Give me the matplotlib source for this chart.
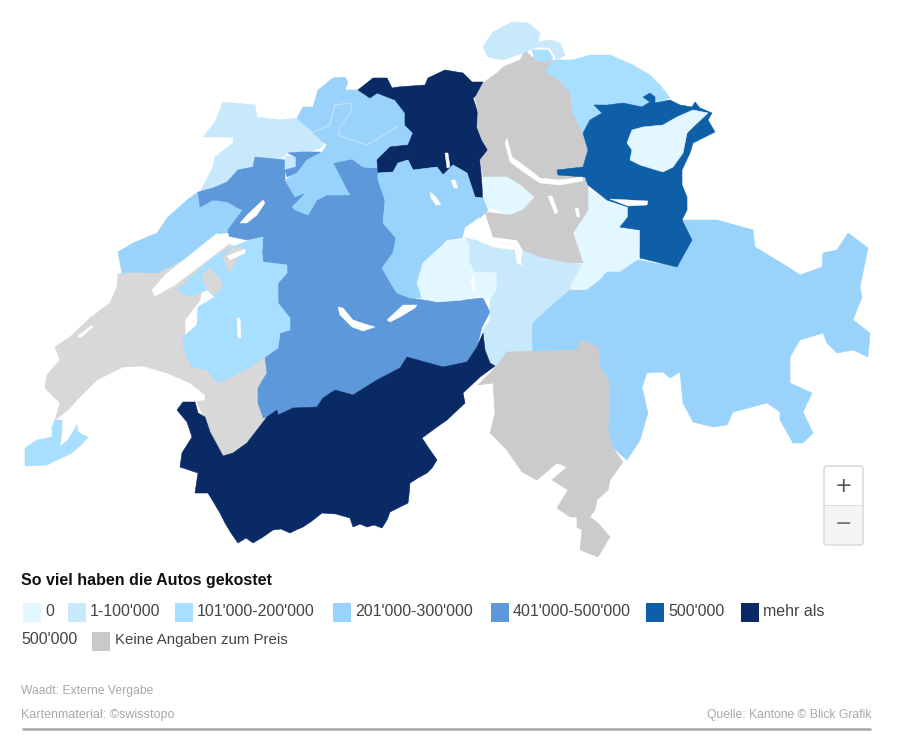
import matplotlib
matplotlib.use('Agg')
import matplotlib.pyplot as plt
from matplotlib.patches import Rectangle, FancyBboxPatch

plt.rcParams['font.family'] = ['Liberation Sans Narrow', 'Liberation Sans', 'DejaVu Sans']

# Kantone, Umrisse aus dem Bild gelesen (Pixel x, y)
vaud = [(118,274),(135,270),(157,270),(185,255),(215,235),(225,243),(241,248),(230,250),(205,270),(200,300),(185,320),(185,345),(225,378),(265,357),(267,373),(258,388),(258,403),(262,418),(267,417),(257,430),(247,443),(233,453),(223,456),(210,432),(197,402),(205,400),(205,395),(190,383),(167,373),(143,366),(123,367),(97,380),(77,400),(68,410),(55,420),(60,403),(45,388),(47,375),(60,360),(55,347),(70,337),(90,318),(110,303),(117,287)]
geneve = [(55,420),(62,420),(62,430),(60,447),(68,440),(77,425),(78,432),(88,437),(83,443),(72,453),(57,460),(47,465),(25,466),(25,448),(37,440),(52,437),(52,427)]
neuchatel = [(118,252),(133,243),(157,233),(168,217),(187,200),(198,192),(200,207),(213,200),(228,202),(238,208),(243,210),(233,223),(228,230),(228,236),(217,233),(183,260),(157,273),(135,272),(122,273)]
jura = [(203,137),(215,122),(223,102),(255,105),(257,117),(280,120),(297,118),(313,133),(323,142),(322,147),(307,153),(287,153),(280,160),(255,157),(253,167),(238,170),(227,182),(213,188),(200,192),(213,167),(215,157),(233,143),(233,137)]
jura_enklave = [(285,156),(296,156),(296,168),(285,170)]
bern = [(198,192),(213,188),(227,182),(238,170),(253,167),(255,157),(285,160),(285,180),(293,193),(317,195),(348,195),(333,163),(352,159),(363,167),(377,168),(378,180),(385,200),(383,223),(396,238),(393,253),(382,268),(393,287),(397,293),(410,298),(437,302),(463,300),(483,298),(490,312),(482,327),(477,347),(467,362),(443,367),(407,357),(400,368),(377,380),(353,395),(335,390),(323,398),(317,407),(293,408),(278,415),(263,418),(258,403),(258,388),(267,373),(265,357),(278,348),(280,333),(290,330),(290,318),(278,303),(278,283),(287,273),(287,265),(263,262),(262,253),(263,237),(247,240),(228,236),(228,230),(233,223),(243,210),(238,208),(228,202),(213,200),(200,207)]
bern_nord = [(288,153),(300,152),(320,152),(322,153),(307,160),(297,173),(287,177),(285,170),(296,167),(296,157)]
fribourg = [(177,290),(212,258),(232,247),(250,240),(263,237),(262,253),(263,262),(287,265),(287,273),(278,283),(278,303),(290,318),(290,330),(280,333),(278,348),(265,357),(250,367),(230,377),(218,383),(207,370),(192,367),(187,357),(183,347),(183,337),(197,325),(198,307),(215,297),(207,290),(190,297)]
vaud_enklave_1 = [(202,275),(210,268),(223,283),(217,295),(207,290)]
vaud_enklave_2 = [(223,257),(233,248),(243,247),(230,273),(227,267)]
solothurn = [(297,118),(303,107),(313,107),(318,90),(333,78),(345,77),(348,82),(345,90),(357,90),(370,98),(377,93),(395,100),(405,113),(405,125),(413,133),(408,145),(397,147),(390,147),(380,160),(377,168),(363,167),(352,159),(333,163),(348,192),(350,195),(327,195),(317,200),(308,215),(295,210),(292,207),(307,192),(295,197),(285,180),(297,173),(307,160),(322,152),(327,145),(323,142),(313,133)]
aargau = [(358,90),(373,78),(387,78),(392,88),(398,87),(425,85),(428,78),(445,70),(463,73),(472,82),(483,82),(482,92),(473,98),(478,113),(477,127),(482,140),(488,150),(480,160),(483,198),(475,197),(467,173),(453,165),(443,175),(437,167),(413,170),(408,160),(398,163),(393,172),(378,173),(377,160),(390,147),(408,145),(413,133),(405,125),(405,113),(395,100),(377,93),(370,98)]
luzern = [(378,173),(393,172),(398,163),(408,160),(413,170),(437,167),(443,175),(453,165),(467,173),(475,197),(483,198),(488,210),(480,218),(465,227),(462,238),(447,240),(437,250),(423,263),(417,283),(422,298),(410,298),(397,293),(393,287),(382,268),(393,253),(396,238),(383,223),(385,200),(378,180)]
obwalden = [(417,283),(423,263),(437,250),(447,242),(462,238),(470,245),(470,262),(475,272),(470,280),(475,296),(463,300),(437,302),(422,298)]
obwalden_2 = [(475,273),(497,272),(497,290),(490,300),(483,298),(475,296)]
nidwalden = [(465,238),(493,240),(517,247),(520,267),(505,268),(497,272),(475,272),(470,262),(470,245)]
uri = [(490,300),(490,320),(483,330),(485,350),(490,363),(495,366),(507,352),(533,352),(532,333),(533,323),(550,307),(570,290),(575,282),(583,265),(570,263),(540,257),(523,250),(520,267),(505,268),(497,272),(497,290)]
glarus = [(588,190),(607,200),(628,207),(628,217),(620,227),(638,228),(640,260),(620,272),(607,272),(600,280),(587,290),(570,287),(583,263),(573,233),(588,210)]
graubuenden = [(638,260),(677,267),(692,240),(682,220),(717,220),(753,230),(755,247),(788,267),(800,275),(822,267),(823,253),(837,250),(848,233),(868,248),(860,287),(862,297),(853,320),(870,333),(868,357),(853,350),(837,353),(827,343),(823,333),(800,340),(790,357),(790,383),(812,393),(803,412),(813,433),(803,443),(793,443),(780,420),(780,412),(767,403),(733,412),(727,425),(713,427),(693,422),(683,403),(680,372),(670,378),(663,372),(647,373),(642,387),(648,413),(640,440),(627,460),(612,447),(608,430),(610,383),(600,367),(598,347),(580,340),(577,350),(533,352),(532,333),(533,323),(550,307),(570,290),(587,290),(600,280),(607,272),(620,272)]
tessin = [(478,385),(493,370),(507,352),(577,350),(580,340),(598,347),(600,367),(610,383),(608,430),(612,447),(623,462),(610,480),(608,490),(597,500),(595,510),(590,517),(598,523),(610,537),(598,557),(580,550),(582,530),(577,527),(577,517),(570,517),(557,508),(568,490),(552,480),(567,467),(557,463),(537,480),(522,472),(507,450),(490,433),(495,413),(493,383)]
zuerich = [(475,98),(483,83),(497,73),(503,67),(520,60),(525,50),(532,57),(553,60),(545,72),(560,80),(570,93),(573,113),(583,133),(588,150),(583,167),(585,178),(560,182),(540,181),(523,187),(507,177),(483,177),(480,160),(488,150),(482,140),(477,127),(478,113)]
zug = [(483,177),(507,177),(523,187),(535,197),(523,210),(510,215),(488,207),(483,197)]
schwyz = [(523,187),(540,181),(560,183),(586,179),(588,187),(588,210),(573,233),(583,263),(570,263),(540,257),(523,250),(517,240),(493,237),(485,212),(510,215),(523,210),(535,197)]
thurgau = [(557,60),(573,60),(590,55),(610,55),(633,65),(650,75),(660,85),(670,98),(655,103),(655,97),(650,93),(643,97),(650,102),(642,107),(623,103),(594,105),(602,113),(590,120),(583,133),(573,113),(570,93),(560,80),(545,72),(553,60)]
thurgau_see = [(532,50),(548,50),(553,58),(545,62),(535,60)]
schaffhausen = [(483,47),(493,32),(512,22),(528,23),(540,33),(538,42),(550,40),(560,43),(565,55),(557,60),(550,48),(537,47),(523,53),(503,60),(488,57)]
st_gallen = [(594,105),(607,105),(623,103),(642,107),(650,102),(643,97),(650,93),(655,97),(655,103),(670,100),(680,105),(692,107),(695,102),(700,108),(712,113),(708,120),(715,132),(693,143),(690,153),(682,170),(682,185),(687,197),(687,210),(682,220),(692,240),(677,267),(640,258),(640,230),(620,227),(628,217),(628,207),(607,200),(588,185),(585,177),(558,175),(557,170),(583,167),(588,150),(583,133),(590,120),(602,113)]
appenzell = [(632,130),(643,127),(663,125),(677,117),(693,110),(708,113),(693,127),(687,133),(683,153),(673,167),(663,172),(640,165),(630,160),(632,150),(627,143),(630,135)]
wallis = [(177,410),(183,402),(195,402),(198,413),(205,417),(210,432),(223,456),(233,453),(247,443),(257,430),(267,417),(277,410),(278,415),(293,408),(317,407),(323,398),(335,390),(353,395),(377,380),(400,368),(407,357),(443,367),(467,362),(477,347),(483,333),(485,350),(490,363),(495,366),(480,377),(463,393),(465,403),(447,420),(437,427),(422,438),(430,450),(437,460),(432,468),(427,473),(418,478),(410,483),(409,495),(408,503),(398,508),(390,512),(387,520),(382,528),(374,525),(367,527),(360,524),(353,527),(350,518),(336,514),(322,513),(312,521),(303,527),(296,530),(290,533),(281,529),(273,530),(263,537),(253,543),(246,538),(238,543),(231,533),(225,523),(220,513),(214,503),(208,493),(195,493),(198,473),(180,467),(182,453),(192,437),(187,422)]

# Seen
neuenburgersee = [(152,290),(165,275),(190,255),(215,235),(228,233),(230,243),(205,262),(175,285),(155,296)]
bielersee = [(240,223),(247,215),(263,200),(265,203),(257,215),(247,223)]
murtensee = [(227,256),(245,249),(245,253),(230,260)]
greyerzersee = [(237,318),(240,318),(241,338),(238,338)]
lac_de_joux = [(78,336),(92,325),(93,327),(80,338)]
thunersee = [(338,307),(343,308),(353,320),(365,324),(375,327),(363,331),(352,327),(340,315)]
brienzersee = [(387,320),(403,305),(417,305),(415,308),(400,317),(390,322)]
hallwilersee = [(445,153),(448,153),(450,167),(447,168)]
sempachersee = [(430,192),(436,197),(441,205),(436,205),(431,198)]
baldeggersee = [(451,180),(455,180),(458,188),(454,188)]
zuerichsee = [(507,138),(512,157),(530,170),(540,178),(560,180),(582,177),(583,181),(560,185),(540,183),(525,173),(510,162),(505,143)]
walensee = [(610,199),(648,201),(647,205),(628,206)]
aegerisee = [(548,196),(552,196),(558,212),(555,214)]
sihlsee = [(575,208),(578,208),(580,217),(577,217)]
vierwaldstaettersee = [(480,217),(467,227),(463,237),(477,240),(493,247),(515,250),(517,263),(522,265),(517,247),(493,240),(482,233),(488,225),(486,221),(478,229),(472,226)]

canton_shapes = [vaud, geneve, neuchatel, jura, bern, jura_enklave, bern_nord, fribourg, vaud_enklave_1, vaud_enklave_2,
                 solothurn, aargau, luzern, obwalden, obwalden_2, nidwalden, uri, glarus, graubuenden, tessin,
                 zuerich, zug, schwyz, thurgau, thurgau_see, schaffhausen, st_gallen, appenzell, wallis]
canton_colors = ['#d8d8d8', '#a8deff', '#99d3fb', '#c8e8fc', '#5c98da', '#c8e8fc', '#5c98da', '#a8deff', '#d8d8d8', '#d8d8d8',
                 '#99d3fb', '#0a2a66', '#99d3fb', '#e2f7ff', '#e2f7ff', '#c8e8fc', '#c8e8fc', '#e2f7ff', '#99d3fb', '#cbcbcb',
                 '#cbcbcb', '#e2f7ff', '#cbcbcb', '#a8deff', '#a8deff', '#c8e8fc', '#0e5fa8', '#e2f7ff', '#0a2a66']
lakes = [neuenburgersee, bielersee, murtensee, greyerzersee, lac_de_joux, thunersee, brienzersee, hallwilersee,
         sempachersee, baldeggersee, zuerichsee, walensee, aegerisee, sihlsee, vierwaldstaettersee]

# Grenzlinien BL / BS / SO
so_border_1 = [(335,105),(350,103),(352,110),(340,127),(338,135),(367,145),(397,127)]
so_border_2 = [(300,123),(313,132),(330,125),(335,105)]

legend_title = 'So viel haben die Autos gekostet'
legend_labels = ['0', "1-100'000", "101'000-200'000", "201'000-300'000", "401'000-500'000", "500'000", 'mehr als']
legend_colors = ['#e2f7ff', '#c8e8fc', '#a8deff', '#99d3fb', '#5c98da', '#0e5fa8', '#0a2a66']
legend_wrap = "500'000"
legend_none_label = 'Keine Angaben zum Preis'
legend_none_color = '#c9c9c9'
note_waadt = 'Waadt: Externe Vergabe'
note_map = 'Kartenmaterial: ©swisstopo'
note_source = 'Quelle: Kantone © Blick Grafik'

fig = plt.figure(figsize=(9, 7.41), dpi=100)
ax = fig.add_axes([0, 0, 1, 1])
ax.set_xlim(0, 900)
ax.set_ylim(741, 0)
ax.axis('off')

# Karte
for shape, color in zip(canton_shapes, canton_colors):
    xs, ys = zip(*shape)
    ax.fill(xs, ys, facecolor=color, edgecolor=color, lw=0.4)
for shape in lakes:
    xs, ys = zip(*shape)
    ax.fill(xs, ys, facecolor='white', edgecolor='white', lw=0.3)
for line in [so_border_1, so_border_2]:
    xs, ys = zip(*line)
    ax.plot(xs, ys, color='#c4e4fc', lw=0.8)

# Legende
ax.text(21, 580, legend_title, fontsize=11.5, fontweight='bold', color='#111111', va='center', ha='left')
box_x = [23, 68, 175, 333, 491, 646, 741]
for x, label, color in zip(box_x, legend_labels, legend_colors):
    ax.add_patch(Rectangle((x, 603), 18, 19, facecolor=color, edgecolor='none'))
    ax.text(x + 22, 611, label, fontsize=11.5, color='#444444', va='center', ha='left')
ax.text(21, 640, legend_wrap, fontsize=11.5, color='#444444', va='center', ha='left')
ax.add_patch(Rectangle((92, 632), 18, 19, facecolor=legend_none_color, edgecolor='none'))
ax.text(115, 640, legend_none_label, fontsize=10.8, color='#444444', va='center', ha='left')

# Fussnoten
ax.text(21, 691, note_waadt, fontsize=8.7, color='#a8a8a8', va='center', ha='left')
ax.text(21, 715, note_map, fontsize=9, color='#a8a8a8', va='center', ha='left')
ax.text(871, 715, note_source, fontsize=8.7, color='#a8a8a8', va='center', ha='right')
ax.plot([22, 871], [729, 729], color='#a6a6a6', lw=1.8, solid_capstyle='butt')

# Zoom-Knoepfe
ax.add_patch(FancyBboxPatch((824, 466), 39, 79, boxstyle='round,pad=0,rounding_size=3',
                            facecolor='white', edgecolor='#d4d4d4', lw=1))
ax.add_patch(FancyBboxPatch((825, 506), 37, 38, boxstyle='round,pad=0,rounding_size=2',
                            facecolor='#f5f5f5', edgecolor='none'))
ax.plot([824, 863], [505, 505], color='#dddddd', lw=0.8)
ax.text(843.5, 486, '+', fontsize=15, color='#555555', ha='center', va='center', family='DejaVu Sans')
ax.text(843.5, 524, '−', fontsize=15, color='#777777', ha='center', va='center', family='DejaVu Sans')

fig.savefig('out.png', dpi=100, facecolor='white')
